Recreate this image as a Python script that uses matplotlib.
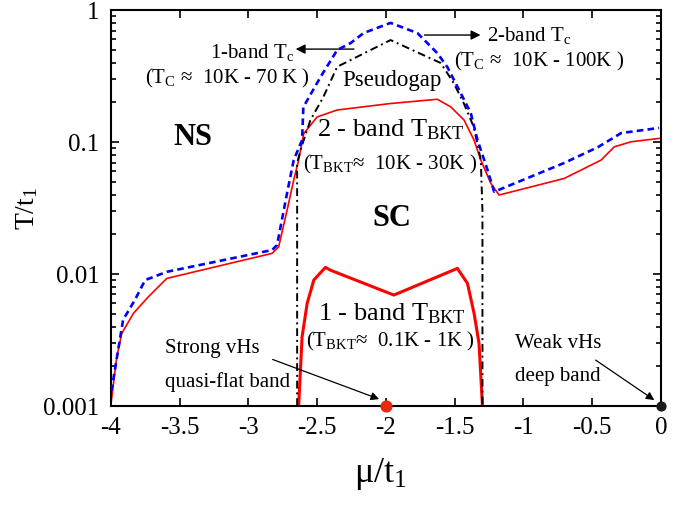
import matplotlib.pyplot as plt

plt.rcParams["font.family"] = ["Liberation Serif", "DejaVu Serif"]
plt.rcParams["mathtext.fontset"] = "custom"
plt.rcParams["mathtext.rm"] = "Liberation Serif"
plt.rcParams["mathtext.it"] = "Liberation Serif:italic"
plt.rcParams["mathtext.bf"] = "Liberation Serif:bold"

# 2-band Tc (blue dashed)
mu_tc2 = [-3.995, -3.91, -3.823, -3.75, -3.592, -2.827, -2.791, -2.718, -2.67, -2.609,
          -2.6, -2.476, -2.354, -2.257, -2.162, -1.966, -1.771, -1.626, -1.553, -1.456,
          -1.383, -1.334, -1.261, -1.213, -0.706, -0.458, -0.29, -0.014]
t_tc2 = [0.0013, 0.0045, 0.0064, 0.0090, 0.0104, 0.0152, 0.0166, 0.0411, 0.0731, 0.1035,
         0.184, 0.31, 0.498, 0.562, 0.67, 0.80, 0.67, 0.472, 0.37, 0.235,
         0.166, 0.1035, 0.0614, 0.042, 0.0693, 0.0916, 0.117, 0.128]

# pseudogap / 1-band Tc (black dash-dot)
mu_pg = [-2.645, -2.645, -2.621, -2.548, -2.454, -2.354, -1.966, -1.601, -1.507,
         -1.434, -1.361, -1.31, -1.298, -1.298]
t_pg = [0.001, 0.069, 0.087, 0.147, 0.22, 0.372, 0.593, 0.397, 0.28,
        0.197, 0.13, 0.073, 0.03, 0.001]

# 2-band T_BKT (thin red)
mu_bkt2 = [-4.0, -3.956, -3.92, -3.835, -3.726, -3.592, -2.827, -2.779, -2.718, -2.67,
           -2.634, -2.597, -2.5, -2.354, -1.966, -1.626, -1.529, -1.432, -1.359, -1.31,
           -1.237, -1.177, -0.704, -0.436, -0.34, -0.218, -0.012]
t_bkt2 = [0.001, 0.00236, 0.00355, 0.00504, 0.00673, 0.00927, 0.01435, 0.0161, 0.0305, 0.0515,
          0.073, 0.116, 0.155, 0.175, 0.196, 0.211, 0.185, 0.147, 0.1035, 0.073,
          0.0486, 0.0397, 0.053, 0.073, 0.092, 0.1005, 0.1066]

# 1-band T_BKT (thick red)
mu_bkt1 = [-2.634, -2.609, -2.572, -2.524, -2.439, -2.403, -1.942, -1.48, -1.407,
           -1.359, -1.323, -1.298]
t_bkt1 = [0.001, 0.00335, 0.006, 0.009, 0.01124, 0.0107, 0.00693, 0.01104, 0.0085,
          0.00504, 0.00299, 0.001]

# van Hove points
vhs_mu = [-2.0, 0.0]
vhs_t = [0.001, 0.001]

xticks = [-4, -3.5, -3, -2.5, -2, -1.5, -1, -0.5, 0]
xticklabels = ["-4", "-3.5", "-3", "-2.5", "-2", "-1.5", "-1", "-0.5", "0"]
yticks = [0.001, 0.01, 0.1, 1]
yticklabels = ["0.001", "0.01", "0.1", "1"]

fig = plt.figure(figsize=(6.89, 5.05), dpi=100)
ax = fig.add_axes([0.1607, 0.196, 0.7987, 0.784])

ax.plot(mu_bkt2, t_bkt2, color="red", lw=1.2, zorder=2)
ax.plot(mu_bkt1, t_bkt1, color="red", lw=2.2, zorder=2)
ax.plot(mu_pg, t_pg, color="black", lw=1.4, linestyle=(0, (4, 2, 1, 2)), zorder=3)
ax.plot(mu_tc2, t_tc2, color="blue", lw=1.9, linestyle=(0, (2.5, 1.6)), zorder=4)

ax.scatter(vhs_mu[:1], vhs_t[:1], s=60, color="#e52a10", zorder=6, clip_on=False)
ax.scatter(vhs_mu[1:], vhs_t[1:], s=40, color="#1a1a1a", zorder=6, clip_on=False)

ax.set_yscale("log")
ax.set_xlim(-4, 0)
ax.set_ylim(0.001, 1.0)
ax.set_xticks(xticks)
ax.set_xticklabels(xticklabels)
ax.set_yticks(yticks)
ax.set_yticklabels(yticklabels)
ax.tick_params(which="both", direction="in", top=True, right=True, labelsize=18, width=1.2)
ax.tick_params(which="major", length=6, pad=8)
ax.tick_params(which="minor", length=3.5)
for s in ax.spines.values():
    s.set_linewidth(1.5)

ax.set_ylabel("T/t$_1$", fontsize=20)
ax.yaxis.set_label_coords(-0.128, 0.5)
ax.set_xlabel("μ/t$_1$", fontsize=26)
ax.xaxis.set_label_coords(0.49, -0.125)

tr = ax.transAxes
small = 15
ax.text(0.256, 0.894, "1-band T$_\\mathrm{c}$", transform=tr, fontsize=small, ha="center", va="center")
ax.annotate("", xy=(0.331, 0.9015), xytext=(0.447, 0.9015), xycoords=tr,
            arrowprops=dict(arrowstyle="-|>", color="black", lw=1, mutation_scale=14))
ax.text(0.212, 0.828, "(T$_\\mathrm{C}$ ≈  10K - 70 K )", transform=tr, fontsize=small, ha="center", va="center")
ax.text(0.760, 0.937, "2-band T$_\\mathrm{c}$", transform=tr, fontsize=small, ha="center", va="center")
ax.annotate("", xy=(0.677, 0.937), xytext=(0.565, 0.937), xycoords=tr,
            arrowprops=dict(arrowstyle="-|>", color="black", lw=1, mutation_scale=14))
ax.text(0.778, 0.869, "(T$_\\mathrm{C}$ ≈  10K - 100K )", transform=tr, fontsize=small, ha="center", va="center")
ax.text(0.511, 0.823, "Pseudogap", transform=tr, fontsize=16.5, ha="center", va="center")
ax.text(0.150, 0.677, "NS", transform=tr, fontsize=22, fontweight="bold", ha="center", va="center")
ax.text(0.509, 0.697, "2 - band T$_\\mathrm{BKT}$", transform=tr, fontsize=19, ha="center", va="center")
ax.text(0.508, 0.609, "(T$_\\mathrm{BKT}$≈  10K - 30K )", transform=tr, fontsize=small, ha="center", va="center")
ax.text(0.511, 0.474, "SC", transform=tr, fontsize=22, fontweight="bold", ha="center", va="center")
ax.text(0.511, 0.234, "1 - band T$_\\mathrm{BKT}$", transform=tr, fontsize=19, ha="center", va="center")
ax.text(0.509, 0.162, "(T$_\\mathrm{BKT}$≈  0.1K - 1K )", transform=tr, fontsize=small, ha="center", va="center")
ax.text(0.0987, 0.146, "Strong vHs", transform=tr, fontsize=small, ha="left", va="center")
ax.text(0.0987, 0.061, "quasi-flat band", transform=tr, fontsize=small, ha="left", va="center")
ax.annotate("", xy=(0.4925, 0.015), xytext=(0.2895, 0.120), xycoords=tr,
            arrowprops=dict(arrowstyle="-|>", color="black", lw=0.9, mutation_scale=12))
ax.text(0.735, 0.158, "Weak vHs", transform=tr, fontsize=small, ha="left", va="center")
ax.text(0.735, 0.074, "deep band", transform=tr, fontsize=small, ha="left", va="center")
ax.annotate("", xy=(0.992, 0.011), xytext=(0.877, 0.120), xycoords=tr,
            arrowprops=dict(arrowstyle="-|>", color="black", lw=0.9, mutation_scale=12))

fig.savefig("out.png", dpi=100)
